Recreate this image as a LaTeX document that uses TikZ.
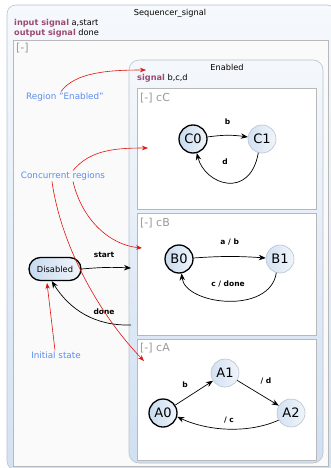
\documentclass[tikz,border=0pt]{standalone}
\usepackage{fontspec}
\setmainfont{DejaVu Sans}
\usetikzlibrary{arrows.meta,shapes.misc}
\definecolor{kw}{HTML}{9B4A72}
\definecolor{anno}{HTML}{5B8DEF}
\definecolor{annored}{HTML}{E0140E}
\definecolor{stbl}{HTML}{C8DAEF}
\definecolor{stlt}{HTML}{F0F5FB}
\definecolor{frame}{HTML}{B9C2CE}
\definecolor{regline}{HTML}{B8B8B8}
\definecolor{reglab}{HTML}{999999}
\tikzset{
  initst/.style={circle,draw=black,line width=1.3pt,minimum size=28pt,inner sep=0pt,
    left color=stbl,right color=stlt,font=\fontsize{13}{13}\selectfont},
  normst/.style={circle,draw=frame,line width=0.6pt,minimum size=28pt,inner sep=0pt,
    left color=stbl!80,right color=stlt,font=\fontsize{13}{13}\selectfont},
  trans/.style={-{Stealth[length=7pt,width=5.5pt]},line width=0.7pt,black},
  tlab/.style={font=\fontsize{7.5}{8}\selectfont\bfseries,inner sep=1pt},
  region/.style={draw=regline,line width=0.6pt,fill=white},
  reglabel/.style={anchor=west,text=reglab,font=\fontsize{11}{11}\selectfont,inner sep=0pt},
  annotext/.style={text=anno,font=\fontsize{8.8}{9}\selectfont,inner sep=1pt},
  annoarrow/.style={-{Stealth[length=6pt,width=4.5pt]},annored,line width=0.6pt},
  small/.style={font=\fontsize{8.2}{8.5}\selectfont,inner sep=0pt},
}
\begin{document}
\begin{tikzpicture}[x=1pt,y=-1pt]
\useasboundingbox (0,0) rectangle (330,468);
% outer box
\draw[frame,line width=0.6pt,top color=stlt!60,bottom color=stbl!80,rounded corners=9pt]
  (7,5) rectangle (336,470);
\node[small,anchor=center] (title) at (170,13) {Sequencer\_signal};
\node[small,anchor=west] (insig) at (14,23) {\textcolor{kw}{\bfseries input signal} a,start};
\node[small,anchor=west] (outsig) at (14,33) {\textcolor{kw}{\bfseries output signal} done};
% inner region
\draw[regline,line width=0.6pt,fill=white!98!black] (13,40) rectangle (328,466);
\node[reglabel] (rtop) at (16,48) {[-]};
% Enabled state
\draw[frame,line width=0.6pt,top color=stlt!70,bottom color=stbl!85,rounded corners=10pt]
  (129,60) rectangle (323,463);
\node[small,anchor=center] (entitle) at (227,67) {Enabled};
\node[small,anchor=west] (ensig) at (137,78) {\textcolor{kw}{\bfseries signal} b,c,d};
% regions
\draw[region] (137,88) rectangle (316,209);
\node[reglabel] (lC) at (140,98) {[-] cC};
\draw[region] (137,213) rectangle (316,335);
\node[reglabel] (lB) at (140,223) {[-] cB};
\draw[region] (137,339) rectangle (316,460);
\node[reglabel] (lA) at (140,348) {[-] cA};
% states cC
\node[initst] (C0) at (193,139) {C0};
\node[normst] (C1) at (262,139) {C1};
\draw[trans] (C0) to[bend left=8] node[tlab,pos=0.5,above=9pt] {b} (C1);
\draw[trans] (C1.-105) .. controls (250,200) and (205,185) .. (C0.-75);
\node[tlab] (ld) at (225,162) {d};
% states cB
\node[initst] (B0) at (179,259) {B0};
\node[normst] (B1) at (280,259) {B1};
\draw[trans] (B0) to[bend left=4] node[tlab,pos=0.5,above=10pt] {a / b} (B1);
\draw[trans] (B1.-105) .. controls (270,315) and (185,305) .. (B0.-80);
\node[tlab] (lcd) at (228,284) {c / done};
% states cA
\node[initst] (A0) at (163,413) {A0};
\node[normst] (A1) at (225,373) {A1};
\node[normst] (A2) at (291,413) {A2};
\draw[trans] (A0) -- (A1);
\node[tlab] (lb) at (185,385) {b};
\draw[trans] (A1) -- (A2);
\node[tlab] (ld2) at (266,381) {/ d};
\draw[trans] (A2.-150) .. controls (250,433) and (210,432) .. (A0.-15);
\node[tlab] (lc) at (229,420) {/ c};
% Disabled
\node[rounded rectangle,draw=black,line width=1.3pt,minimum width=54pt,minimum height=23pt,
  inner sep=1pt,left color=stbl,right color=stlt,font=\fontsize{8.3}{8.3}\selectfont] (Dis) at (55,269) {Disabled};
\coordinate (eStart) at (131,268);
\coordinate (sDone) at (131,325);
\draw[trans] (Dis.east) to[bend left=4] (eStart);
\node[tlab] (lstart) at (104,255) {start};
\draw[trans] (sDone) .. controls (95,326) and (70,310) .. (Dis.-105);
\node[tlab] (ldone) at (104,312) {done};
% annotations
\node[annotext] (tRE) at (65,97) {Region "Enabled"};
\node[annotext] (tCR) at (63,176) {Concurrent regions};
\node[annotext] (tIS) at (56,355) {Initial state};
\coordinate (aEn) at (146,70);
\coordinate (aC) at (148,148);
\coordinate (aB) at (142,248);
\coordinate (aA) at (144,361);
\coordinate (aIS) at (47,283);
\draw[annoarrow] ([xshift=-4pt]tRE.north) .. controls (75,72) and (110,70) .. (aEn);
\draw[annoarrow] ([xshift=10pt]tCR.north) .. controls (90,150) and (115,148) .. (aC);
\draw[annoarrow] ([xshift=10pt]tCR.south) .. controls (82,220) and (110,245) .. (aB);
\draw[annoarrow] ([xshift=-11pt]tCR.south) .. controls (60,240) and (95,310) .. (aA);
\draw[annoarrow] ([xshift=-1pt]tIS.north) -- (aIS);
\end{tikzpicture}
\end{document}
